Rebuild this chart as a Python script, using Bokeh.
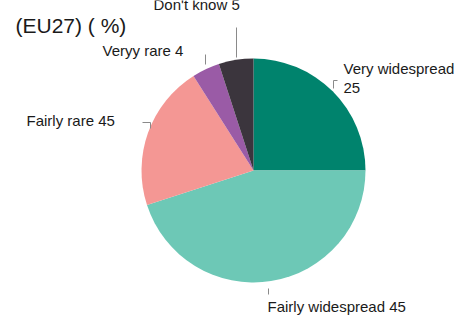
import math
from bokeh.plotting import figure
from bokeh.models import Range1d, ColumnDataSource
from bokeh.core.properties import value
from bokeh.embed import file_html
from bokeh.resources import INLINE

# Data
categories = ["Very widespread", "Fairly widespread", "Fairly rare", "Veryy rare", "Don't know"]
shares = [25, 45, 21, 4, 5]               # slice sizes as drawn
label_texts = ["Very widespread\n25", "Fairly widespread 45", "Fairly rare 45", "Veryy rare 4", "Don't know 5"]
colors = ["#00836D", "#6DC8B6", "#F49794", "#9A5BA6", "#3B353D"]
title_text = "(EU27) ( %)"

W, H = 464, 317
def Y(py):  # page pixel y -> data y
    return H - py
def X(px):
    return px

p = figure(width=W, height=H, x_range=Range1d(0, W), y_range=Range1d(0, H),
           output_backend="svg", toolbar_location=None, min_border=0)
p.axis.visible = False
p.grid.visible = False
p.outline_line_color = None
p.background_fill_color = "white"

cx, cy, r = X(253), Y(170), 112
total = sum(shares)
starts, ends = [], []
cum = 0
for s in shares:
    starts.append(math.pi / 2 - 2 * math.pi * cum / total)
    cum += s
    ends.append(math.pi / 2 - 2 * math.pi * cum / total)
src = ColumnDataSource(dict(start=starts, end=ends, color=colors))
p.wedge(x=cx, y=cy, radius=r, start_angle="start", end_angle="end", direction="clock",
        fill_color="color", line_color=None, source=src)

# Leader lines (layout)
leaders = [
    ([X(337), X(333), X(333)], [Y(80), Y(80), Y(88)]),
    ([X(268), X(268)], [Y(288), Y(294)]),
    ([X(142), X(150), X(150)], [Y(122), Y(122), Y(128)]),
    ([X(205), X(205)], [Y(54), Y(64)]),
    ([X(236), X(236)], [Y(27), Y(57)]),
]
for xs, ys in leaders:
    p.line(xs, ys, line_color="#8a8a8a", line_width=1)

font = value("Liberation Sans")
label_pos = [(X(343), Y(68)), (X(267), Y(306)), (X(26), Y(120)), (X(102), Y(50)), (X(153), Y(4))]
for (lx, ly), t in zip(label_pos, label_texts):
    lines = t.split("\n")
    for i, ln in enumerate(lines):
        p.text(x=[lx], y=[ly - i * 19], text=[ln], text_font=font, text_font_size="15px",
               text_color="#1a1a1a", text_baseline="alphabetic", text_align="left")

p.text(x=[X(15)], y=[Y(25)], text=[title_text], text_font=font, text_font_size="21px",
       text_color="#1a1a1a", text_baseline="alphabetic", text_align="left")

open("out.html", "w").write(file_html(p, INLINE))
